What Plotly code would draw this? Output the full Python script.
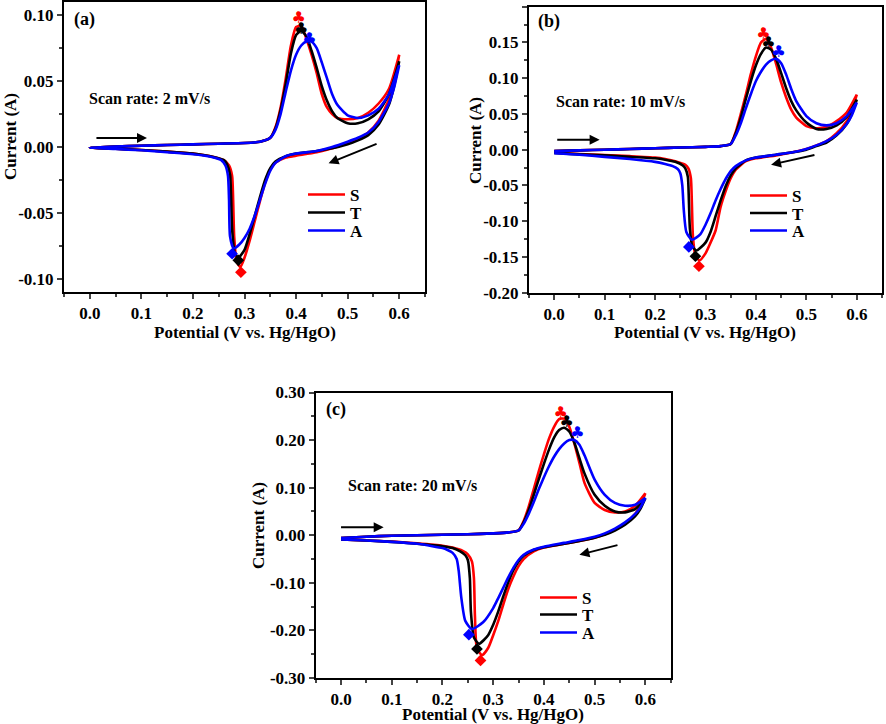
import plotly.graph_objects as go

# ---------------- data ----------------
SERIES = ["S", "T", "A"]
COLORS = ["#ff0000", "#000000", "#0000ff"]
SCAN_RATES = ["Scan rate: 2 mV/s", "Scan rate: 10 mV/s", "Scan rate: 20 mV/s"]
PANEL_LABELS = ["(a)", "(b)", "(c)"]
X_TITLE = "Potential (V vs. Hg/HgO)"
Y_TITLE = "Current (A)"

X_FWD = [0.00, 0.05, 0.10, 0.15, 0.20, 0.25, 0.30, 0.33, 0.35, 0.36, 0.37, 0.38, 0.39, 0.40,
         0.41, 0.42, 0.43, 0.44, 0.45, 0.46, 0.47, 0.48, 0.50, 0.52, 0.54, 0.56, 0.58, 0.60]

# panel (a) 2 mV/s
A_S_FWD = [-0.0005, 0.0003, 0.001, 0.0015, 0.002, 0.0025, 0.003, 0.004, 0.007, 0.015, 0.030, 0.052, 0.077, 0.091,
           0.092, 0.082, 0.070, 0.056, 0.040, 0.030, 0.025, 0.022, 0.021, 0.022, 0.026, 0.033, 0.044, 0.070]
A_T_FWD = [-0.0005, 0.0003, 0.001, 0.0015, 0.002, 0.0025, 0.003, 0.004, 0.007, 0.014, 0.028, 0.048, 0.071, 0.085,
           0.088, 0.084, 0.073, 0.060, 0.046, 0.035, 0.027, 0.022, 0.018, 0.018, 0.021, 0.027, 0.040, 0.065]
A_A_FWD = [-0.0005, 0.0003, 0.001, 0.0015, 0.002, 0.0025, 0.003, 0.004, 0.007, 0.013, 0.025, 0.042, 0.058, 0.070,
           0.077, 0.080, 0.080, 0.075, 0.064, 0.052, 0.040, 0.032, 0.024, 0.022, 0.024, 0.029, 0.040, 0.062]
A_S_REV_X = [0.60, 0.59, 0.58, 0.56, 0.54, 0.52, 0.50, 0.47, 0.44, 0.40, 0.38, 0.36, 0.35, 0.34, 0.33, 0.32,
             0.31, 0.30, 0.292, 0.285, 0.280, 0.278, 0.276, 0.27, 0.26, 0.24, 0.22, 0.20, 0.15, 0.10, 0.05, 0.0]
A_S_REV_Y = [0.070, 0.050, 0.036, 0.020, 0.011, 0.006, 0.003, -0.001, -0.004, -0.0066, -0.008, -0.012, -0.017,
             -0.027, -0.041, -0.056, -0.071, -0.084, -0.091, -0.087, -0.068, -0.040, -0.022, -0.014, -0.010,
             -0.0075, -0.006, -0.005, -0.0035, -0.0023, -0.0013, -0.0005]
A_T_REV_X = [0.60, 0.59, 0.58, 0.56, 0.54, 0.52, 0.50, 0.47, 0.44, 0.40, 0.38, 0.36, 0.35, 0.34, 0.33, 0.32,
             0.31, 0.30, 0.288, 0.281, 0.276, 0.274, 0.272, 0.266, 0.26, 0.24, 0.22, 0.20, 0.15, 0.10, 0.05, 0.0]
A_T_REV_Y = [0.065, 0.046, 0.032, 0.017, 0.009, 0.005, 0.002, -0.001, -0.003, -0.005, -0.007, -0.011, -0.016,
             -0.025, -0.038, -0.052, -0.066, -0.078, -0.084, -0.080, -0.062, -0.038, -0.021, -0.013, -0.010,
             -0.0075, -0.006, -0.005, -0.0035, -0.0023, -0.0013, -0.0005]
A_A_REV_X = [0.60, 0.59, 0.58, 0.56, 0.54, 0.52, 0.50, 0.47, 0.44, 0.40, 0.38, 0.36, 0.35, 0.34, 0.33, 0.32,
             0.31, 0.30, 0.29, 0.279, 0.272, 0.270, 0.268, 0.263, 0.255, 0.24, 0.22, 0.20, 0.15, 0.10, 0.05, 0.0]
A_A_REV_Y = [0.062, 0.045, 0.033, 0.019, 0.011, 0.007, 0.004, 0.000, -0.003, -0.005, -0.007, -0.012, -0.018,
             -0.028, -0.040, -0.052, -0.062, -0.069, -0.074, -0.077, -0.068, -0.040, -0.022, -0.014, -0.010,
             -0.008, -0.0065, -0.0055, -0.004, -0.0025, -0.0015, -0.0005]

# panel (b) 10 mV/s
B_S_FWD = [-0.002, -0.001, 0.000, 0.001, 0.002, 0.003, 0.004, 0.005, 0.008, 0.025, 0.050, 0.077, 0.106, 0.131,
           0.150, 0.155, 0.143, 0.120, 0.094, 0.073, 0.056, 0.045, 0.033, 0.030, 0.032, 0.040, 0.052, 0.077]
B_T_FWD = [-0.002, -0.001, 0.000, 0.001, 0.002, 0.003, 0.004, 0.005, 0.008, 0.023, 0.045, 0.071, 0.096, 0.118,
           0.134, 0.143, 0.140, 0.127, 0.107, 0.086, 0.068, 0.055, 0.038, 0.029, 0.029, 0.034, 0.046, 0.070]
B_A_FWD = [-0.002, -0.001, 0.000, 0.001, 0.002, 0.003, 0.004, 0.005, 0.008, 0.020, 0.037, 0.058, 0.078, 0.096,
           0.109, 0.119, 0.125, 0.127, 0.121, 0.105, 0.085, 0.068, 0.047, 0.037, 0.034, 0.037, 0.047, 0.066]
B_S_REV_X = [0.60, 0.59, 0.58, 0.56, 0.54, 0.52, 0.50, 0.47, 0.44, 0.40, 0.38, 0.36, 0.35, 0.34, 0.33, 0.32,
             0.31, 0.30, 0.288, 0.280, 0.275, 0.273, 0.271, 0.266, 0.26, 0.24, 0.22, 0.20, 0.15, 0.10, 0.05, 0.0]
B_S_REV_Y = [0.077, 0.055, 0.040, 0.023, 0.012, 0.006, 0.001, -0.004, -0.008, -0.012, -0.016, -0.028, -0.040,
             -0.058, -0.080, -0.113, -0.130, -0.145, -0.155, -0.148, -0.120, -0.075, -0.040, -0.026, -0.021,
             -0.016, -0.013, -0.011, -0.009, -0.0075, -0.006, -0.004]
B_T_REV_X = [0.60, 0.59, 0.58, 0.56, 0.54, 0.52, 0.50, 0.47, 0.44, 0.40, 0.38, 0.36, 0.35, 0.34, 0.33, 0.32,
             0.31, 0.30, 0.282, 0.274, 0.269, 0.267, 0.265, 0.26, 0.255, 0.24, 0.22, 0.20, 0.15, 0.10, 0.05, 0.0]
B_T_REV_Y = [0.070, 0.050, 0.036, 0.020, 0.010, 0.005, 0.000, -0.004, -0.007, -0.011, -0.015, -0.026, -0.036,
             -0.051, -0.071, -0.093, -0.115, -0.130, -0.141, -0.135, -0.110, -0.070, -0.038, -0.026, -0.022,
             -0.017, -0.014, -0.012, -0.010, -0.008, -0.0065, -0.0045]
B_A_REV_X = [0.60, 0.59, 0.58, 0.56, 0.54, 0.52, 0.50, 0.47, 0.44, 0.40, 0.38, 0.36, 0.35, 0.34, 0.33, 0.32,
             0.31, 0.30, 0.29, 0.273, 0.262, 0.257, 0.254, 0.25, 0.245, 0.235, 0.22, 0.20, 0.15, 0.10, 0.05, 0.0]
B_A_REV_Y = [0.066, 0.048, 0.036, 0.021, 0.012, 0.006, 0.001, -0.004, -0.007, -0.011, -0.015, -0.023, -0.030,
             -0.041, -0.055, -0.071, -0.089, -0.105, -0.118, -0.126, -0.115, -0.085, -0.050, -0.033, -0.027,
             -0.023, -0.020, -0.017, -0.013, -0.010, -0.007, -0.005]

# panel (c) 20 mV/s
C_S_FWD = [-0.006, -0.003, -0.001, 0.000, 0.001, 0.002, 0.004, 0.006, 0.010, 0.030, 0.060, 0.097, 0.135, 0.170,
           0.203, 0.228, 0.244, 0.245, 0.228, 0.193, 0.152, 0.110, 0.068, 0.053, 0.048, 0.050, 0.062, 0.088]
C_T_FWD = [-0.006, -0.003, -0.001, 0.000, 0.001, 0.002, 0.004, 0.006, 0.010, 0.027, 0.053, 0.085, 0.118, 0.150,
           0.180, 0.205, 0.221, 0.226, 0.218, 0.195, 0.162, 0.130, 0.085, 0.062, 0.050, 0.048, 0.055, 0.078]
C_A_FWD = [-0.006, -0.003, -0.001, 0.000, 0.001, 0.002, 0.004, 0.006, 0.010, 0.024, 0.045, 0.070, 0.097, 0.122,
           0.145, 0.165, 0.181, 0.193, 0.200, 0.200, 0.190, 0.168, 0.117, 0.085, 0.068, 0.062, 0.064, 0.078]
C_S_REV_X = [0.60, 0.59, 0.58, 0.56, 0.54, 0.52, 0.50, 0.47, 0.44, 0.40, 0.38, 0.36, 0.35, 0.34, 0.33, 0.32,
             0.31, 0.30, 0.29, 0.278, 0.268, 0.264, 0.262, 0.258, 0.25, 0.24, 0.22, 0.20, 0.15, 0.10, 0.05, 0.0]
C_S_REV_Y = [0.088, 0.062, 0.045, 0.025, 0.012, 0.002, -0.005, -0.012, -0.018, -0.026, -0.034, -0.050, -0.065,
             -0.086, -0.112, -0.145, -0.180, -0.210, -0.237, -0.252, -0.238, -0.170, -0.090, -0.055, -0.040,
             -0.033, -0.026, -0.022, -0.017, -0.013, -0.011, -0.009]
C_T_REV_X = [0.60, 0.59, 0.58, 0.56, 0.54, 0.52, 0.50, 0.47, 0.44, 0.40, 0.38, 0.36, 0.35, 0.34, 0.33, 0.32,
             0.31, 0.30, 0.29, 0.272, 0.262, 0.256, 0.254, 0.25, 0.245, 0.235, 0.22, 0.20, 0.15, 0.10, 0.05, 0.0]
C_T_REV_Y = [0.078, 0.055, 0.040, 0.022, 0.010, 0.001, -0.005, -0.012, -0.018, -0.025, -0.031, -0.043, -0.055,
             -0.073, -0.098, -0.128, -0.160, -0.188, -0.210, -0.228, -0.215, -0.160, -0.090, -0.052, -0.042,
             -0.034, -0.027, -0.023, -0.018, -0.014, -0.011, -0.009]
C_A_REV_X = [0.60, 0.59, 0.58, 0.56, 0.54, 0.52, 0.50, 0.47, 0.44, 0.40, 0.38, 0.36, 0.35, 0.34, 0.33, 0.32,
             0.31, 0.30, 0.28, 0.258, 0.245, 0.237, 0.232, 0.228, 0.22, 0.21, 0.20, 0.18, 0.15, 0.10, 0.05, 0.0]
C_A_REV_Y = [0.078, 0.058, 0.045, 0.027, 0.014, 0.004, -0.003, -0.010, -0.016, -0.024, -0.030, -0.041, -0.052,
             -0.068, -0.088, -0.110, -0.132, -0.153, -0.183, -0.197, -0.180, -0.130, -0.075, -0.050, -0.037,
             -0.031, -0.027, -0.023, -0.018, -0.014, -0.011, -0.009]

# peak markers (anodic: club, cathodic: diamond)
A_ANODIC_X = [0.405, 0.410, 0.426]
A_ANODIC_Y = [0.097, 0.089, 0.081]
A_CATHODIC_X = [0.293, 0.288, 0.276]
A_CATHODIC_Y = [-0.095, -0.086, -0.081]
B_ANODIC_X = [0.415, 0.425, 0.445]
B_ANODIC_Y = [0.161, 0.148, 0.135]
B_CATHODIC_X = [0.287, 0.280, 0.267]
B_CATHODIC_Y = [-0.163, -0.149, -0.136]
C_ANODIC_X = [0.433, 0.445, 0.466]
C_ANODIC_Y = [0.255, 0.235, 0.213]
C_CATHODIC_X = [0.275, 0.268, 0.252]
C_CATHODIC_Y = [-0.263, -0.239, -0.209]

Y_TICKS = [
    [-0.10, -0.05, 0.00, 0.05, 0.10],
    [-0.20, -0.15, -0.10, -0.05, 0.00, 0.05, 0.10, 0.15, 0.20],
    [-0.30, -0.20, -0.10, 0.00, 0.10, 0.20, 0.30],
]
X_TICKS = [0.0, 0.1, 0.2, 0.3, 0.4, 0.5, 0.6]

# ---------------- figure ----------------
panels = [
    dict(fwd=[A_S_FWD, A_T_FWD, A_A_FWD], revx=[A_S_REV_X, A_T_REV_X, A_A_REV_X],
         revy=[A_S_REV_Y, A_T_REV_Y, A_A_REV_Y], an=(A_ANODIC_X, A_ANODIC_Y), ca=(A_CATHODIC_X, A_CATHODIC_Y)),
    dict(fwd=[B_S_FWD, B_T_FWD, B_A_FWD], revx=[B_S_REV_X, B_T_REV_X, B_A_REV_X],
         revy=[B_S_REV_Y, B_T_REV_Y, B_A_REV_Y], an=(B_ANODIC_X, B_ANODIC_Y), ca=(B_CATHODIC_X, B_CATHODIC_Y)),
    dict(fwd=[C_S_FWD, C_T_FWD, C_A_FWD], revx=[C_S_REV_X, C_T_REV_X, C_A_REV_X],
         revy=[C_S_REV_Y, C_T_REV_Y, C_A_REV_Y], an=(C_ANODIC_X, C_ANODIC_Y), ca=(C_CATHODIC_X, C_CATHODIC_Y)),
]

W, H = 886, 724
FONT = "Liberation Serif"
x_dom = [[64 / W, 425 / W], [529 / W, 882 / W], [315.7 / W, 670.7 / W]]
y_dom = [[1 - 292 / H, 1 - 2 / H], [1 - 292.7 / H, 1 - 6.7 / H], [1 - 678 / H, 1 - 392.5 / H]]
y_rng = [[-0.11, 0.11], [-0.20, 0.20], [-0.30, 0.30]]
y_minor = [0.025, 0.025, 0.05]
# axis title centres in px: y title (x, y), x title (x, y)
ytitle_px = [(10, 137), (475, 141), (258, 526)]
xtitle_px = [(245, 332), (705, 332), (493, 714)]
# legend row: (line start px, [row centre px for S, T, A])
legend_rows = [(308, [195, 213, 231]), (750, [196, 213.5, 231]), (540, [598, 615, 633])]
scan_pos = [(-0.006, 0.0365), (0.0, 0.067), (0.0105, 0.105)]
label_pos = [(-0.034, 0.097), (-0.036, 0.18), (-0.034, 0.265)]
arrows = [
    [((0.111, 0.0069), (0.010, 0.0069)), ((0.463, -0.0124), (0.559, 0.0028))],
    [((0.090, 0.014), (0.003, 0.014)), ((0.430, -0.021), (0.519, -0.007))],
    [((0.084, 0.017), (-0.003, 0.017)), ((0.470, -0.041), (0.548, -0.020))],
]

fig = go.Figure()
layout = dict(width=W, height=H, margin=dict(l=0, r=0, t=0, b=0),
              paper_bgcolor="white", plot_bgcolor="white",
              font=dict(family=FONT, size=16, color="black", weight="bold"))
annotations = []

for p, pan in enumerate(panels):
    sfx = "" if p == 0 else str(p + 1)
    xa, ya = "x" + sfx, "y" + sfx
    for i, name in enumerate(SERIES):
        k = p * 3 + i
        leg = "legend" if k == 0 else "legend%d" % (k + 1)
        xs = X_FWD + pan["revx"][i]
        ys = pan["fwd"][i] + pan["revy"][i]
        fig.add_trace(go.Scatter(x=xs, y=ys, mode="lines", name=name, legend=leg,
                                 line=dict(color=COLORS[i], width=2.6, shape="spline", smoothing=0.6),
                                 xaxis=xa, yaxis=ya, hoverinfo="skip"))
        lx, rows = legend_rows[p]
        layout[leg] = dict(x=(lx - 5) / W, y=1 - rows[i] / H, xanchor="left", yanchor="middle",
                           bgcolor="rgba(0,0,0,0)", borderwidth=0, itemwidth=37,
                           font=dict(family=FONT, size=17, weight="bold"))
    fig.add_trace(go.Scatter(x=pan["an"][0], y=pan["an"][1], mode="text", text=["\u2663"] * 3,
                             textfont=dict(color=COLORS, size=16, family="DejaVu Sans"),
                             showlegend=False, xaxis=xa, yaxis=ya, hoverinfo="skip"))
    fig.add_trace(go.Scatter(x=pan["ca"][0], y=pan["ca"][1], mode="markers",
                             marker=dict(symbol="diamond", size=9, color=COLORS),
                             showlegend=False, xaxis=xa, yaxis=ya, hoverinfo="skip"))

    yt = Y_TICKS[p]
    layout["xaxis" + sfx] = dict(
        domain=x_dom[p], anchor=ya, range=[-0.05, 0.65], tickmode="array", tickvals=X_TICKS,
        ticktext=["%.1f" % v for v in X_TICKS], ticks="outside", ticklen=5, tickwidth=2,
        showline=True, linewidth=2, linecolor="black", mirror=True, showgrid=False, zeroline=False,
        automargin=False,
        minor=dict(tickmode="linear", tick0=0, dtick=0.05, ticks="outside", ticklen=3, tickwidth=2,
                   showgrid=False),
        tickfont=dict(family=FONT, size=17, weight="bold"))
    layout["yaxis" + sfx] = dict(
        domain=y_dom[p], anchor=xa, range=y_rng[p], tickmode="array", tickvals=yt,
        ticktext=["%.2f" % v for v in yt], ticks="outside", ticklen=5, tickwidth=2,
        showline=True, linewidth=2, linecolor="black", mirror=True, showgrid=False, zeroline=False,
        automargin=False,
        minor=dict(tickmode="linear", tick0=0, dtick=y_minor[p], ticks="outside", ticklen=3, tickwidth=2,
                   showgrid=False),
        tickfont=dict(family=FONT, size=17, weight="bold"))
    annotations.append(dict(x=ytitle_px[p][0] / W, y=1 - ytitle_px[p][1] / H, xref="paper", yref="paper",
                            text=Y_TITLE, textangle=-90, showarrow=False, xanchor="center", yanchor="middle",
                            font=dict(family=FONT, size=17, weight="bold")))
    annotations.append(dict(x=xtitle_px[p][0] / W, y=1 - xtitle_px[p][1] / H, xref="paper", yref="paper",
                            text=X_TITLE, showarrow=False, xanchor="center", yanchor="middle",
                            font=dict(family=FONT, size=17, weight="bold")))
    annotations.append(dict(x=scan_pos[p][0], y=scan_pos[p][1], xref=xa, yref=ya, text=SCAN_RATES[p],
                            showarrow=False, xanchor="left", yanchor="middle",
                            font=dict(family=FONT, size=16, weight="bold")))
    annotations.append(dict(x=label_pos[p][0], y=label_pos[p][1], xref=xa, yref=ya, text=PANEL_LABELS[p],
                            showarrow=False, xanchor="left", yanchor="middle",
                            font=dict(family=FONT, size=18, weight="bold")))
    for (hx, hy), (tx, ty) in arrows[p]:
        annotations.append(dict(x=hx, y=hy, ax=tx, ay=ty, xref=xa, yref=ya, axref=xa, ayref=ya,
                                text="", showarrow=True, arrowhead=2, arrowsize=1, arrowwidth=2,
                                arrowcolor="black"))

layout["annotations"] = annotations
fig.update_layout(**layout)
fig.write_html("out.html", config={"displayModeBar": False},
               post_script="document.body.style.margin='0px';document.body.style.overflow='hidden';")
